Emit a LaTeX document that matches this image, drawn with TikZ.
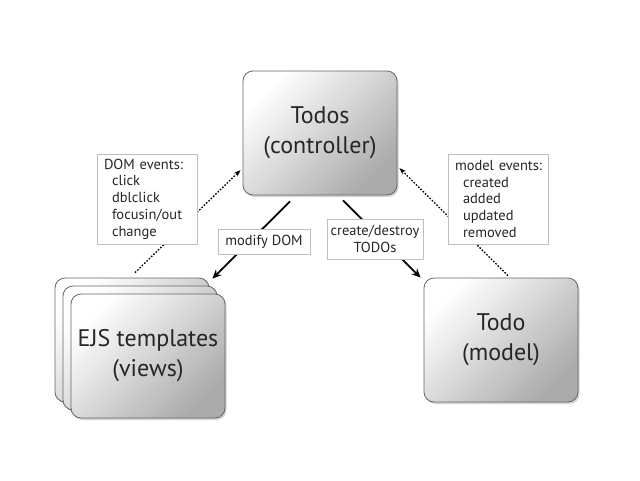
\documentclass[tikz,border=0pt]{standalone}
\usepackage{fontspec}
\setmainfont{PT Sans}
\usetikzlibrary{shadows,arrows.meta}
\begin{document}
\begin{tikzpicture}[x=1pt,y=-1pt,
  bigbox/.style={draw=black!60, line width=0.8pt, rounded corners=10pt,
    minimum width=154pt, minimum height=124pt, inner sep=0pt,
    top color=white, bottom color=black!33, shading angle=45,
    drop shadow={opacity=0.35, shadow xshift=1.5pt, shadow yshift=-2pt},
    align=center, font=\fontsize{24}{30}\selectfont, text=black!85},
  lbl/.style={draw=black!25, fill=white, line width=0.6pt, inner sep=0pt,
    font=\fontsize{14.5}{16.8}\selectfont, text=black!85},
  solidarr/.style={line width=1.8pt, -{Stealth[length=9pt,width=8pt]}},
  dotarr/.style={line width=1.3pt, black, dash pattern=on 1.6pt off 1.6pt, -{Stealth[length=7pt,width=5pt]}}]
\useasboundingbox (0,0) rectangle (640,480);
\node[bigbox] (ctrl) at (320,133) {Todos\\(controller)};
\node[bigbox] (model) at (501,340) {Todo\\(model)};
\node[bigbox] (back) at (132,340) {};
\node[bigbox] (mid) at (140,348) {};
\node[bigbox] (views) at (148,356) {EJS templates\\(views)};
\draw[solidarr] ([xshift=-30pt,yshift=-6pt]ctrl.south) -- ([xshift=3pt,yshift=-1pt]back.north east);
\draw[solidarr] ([xshift=23pt,yshift=-5pt]ctrl.south) -- ([xshift=-3pt,yshift=0pt]model.north west);
\draw[dotarr] ([xshift=3pt,yshift=5pt]back.north) -- ([xshift=-2pt,yshift=-37pt]ctrl.west);
\draw[dotarr] ([xshift=7pt,yshift=2pt]model.north) -- ([xshift=2pt,yshift=-35pt]ctrl.east);
\node[lbl, minimum width=100pt, minimum height=90pt, text width=86pt, align=left] (dom) at (147,199)
  {\mbox{DOM events:}\\\hspace*{8pt}click\\\hspace*{8pt}dblclick\\\hspace*{8pt}focusin/out\\\hspace*{8pt}change};
\node[lbl, minimum width=100pt, minimum height=90pt, text width=86pt, align=left] (mev) at (498,199)
  {\mbox{model events:}\\\hspace*{8pt}created\\\hspace*{8pt}added\\\hspace*{8pt}updated\\\hspace*{8pt}removed};
\node[lbl, minimum width=92pt, minimum height=25pt] (mod) at (264,242) {modify DOM};
\node[lbl, minimum width=96pt, minimum height=40pt, align=center] (cre) at (375,239) {create/destroy\\TODOs};
\end{tikzpicture}
\end{document}
